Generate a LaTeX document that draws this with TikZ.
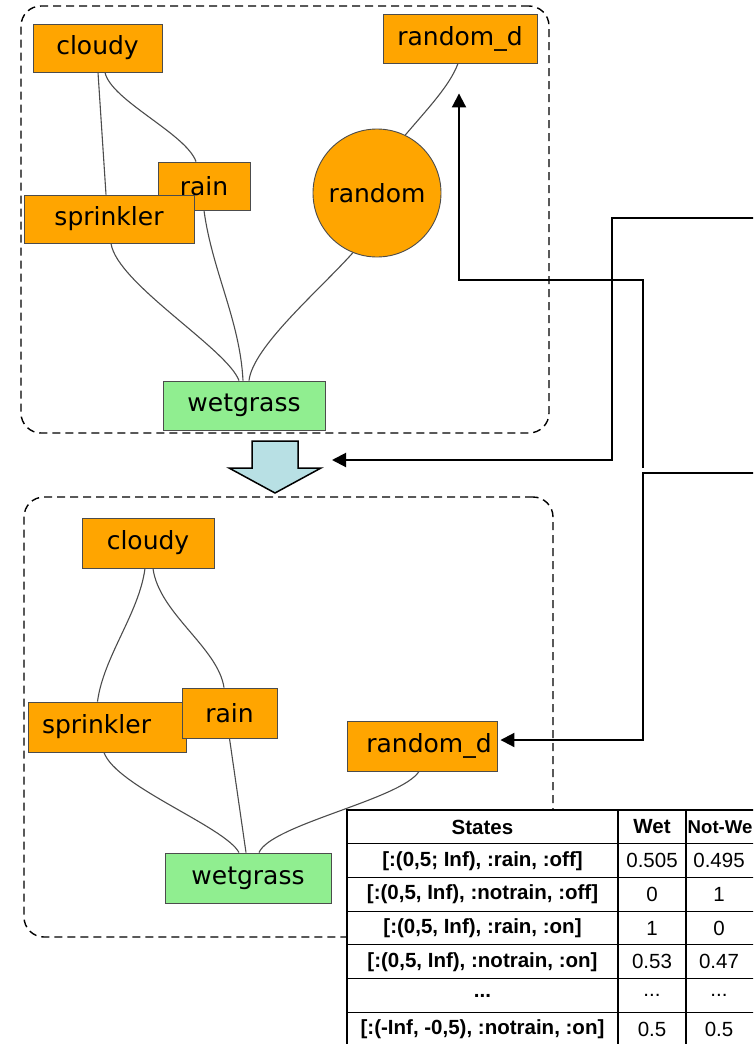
\documentclass[tikz,border=0pt]{standalone}
\usepackage{fontspec}
\setmainfont{DejaVu Sans}
\newfontfamily\tabfont{Liberation Sans}
\usetikzlibrary{positioning, arrows.meta}
\definecolor{netorange}{RGB}{255, 165, 0}
\definecolor{netgreen}{RGB}{144, 238, 144}
\definecolor{flowblue}{RGB}{184, 224, 228}
\newcommand{\celldots}{...}
\tikzset{
  var/.style={
    draw=black!70,
    fill=netorange,
    line width=0.9pt,
    inner sep=0pt,
    minimum height=48pt,
    font=\fontsize{25}{30}\selectfont
  },
  goal/.style={
    var,
    fill=netgreen
  },
  frame/.style={
    draw=black,
    dash pattern=on 8pt off 5pt,
    line width=1.4pt,
    rounded corners=20pt,
    inner sep=0pt
  },
  link/.style={
    draw=black!70,
    line width=1.1pt
  },
  flow/.style={
    draw=black,
    line width=2pt,
    -{Triangle[length=14pt, width=14pt]}
  },
  blockarrow/.style={
    draw=black,
    fill=flowblue,
    line width=1.5pt,
    line join=miter
  },
  tabline/.style={
    draw=black,
    line width=1.2pt
  },
  tabhead/.style={
    inner sep=0pt,
    font=\tabfont\bfseries\fontsize{20.5}{24}\selectfont
  },
  tabval/.style={
    inner sep=0pt,
    font=\tabfont\fontsize{20.5}{24}\selectfont
  }
}

\begin{document}
\begin{tikzpicture}[x=1pt, y=-1pt]
  \useasboundingbox (0,0) rectangle (753,1044);
  \clip (0,0) rectangle (753,1044);

  % network before discretisation
  \node[frame, minimum width=528pt, minimum height=427pt] (net1) at (285,219.5) {};
  \node[var, minimum width=129pt] (cloudy1) at (97.5,48) {cloudy};
  \node[var, minimum width=92pt] (rain1) at (204,186) {rain};
  \node[var, minimum width=170pt] (sprinkler1) at (109,219) {sprinkler};
  \node[var, circle, minimum size=128pt] (random1) at (377,193) {random};
  \node[var, minimum width=154pt, minimum height=49pt] (randomd1) at (460,38.5) {random\_d};
  \node[goal, minimum width=162pt, minimum height=49pt] (wetgrass1) at (244,405.5) {wetgrass};

  \draw[link] ([xshift=0.5pt]cloudy1.south) -- ([xshift=-3pt]sprinkler1.north);
  \draw[link] ([xshift=7.5pt]cloudy1.south) .. controls +(6,28) and +(-10,-28) .. ([xshift=-8pt]rain1.north);
  \draw[link] ([xshift=2pt]sprinkler1.south) .. controls +(6,40) and +(-12,-32) .. ([xshift=-5pt]wetgrass1.north);
  \draw[link] (rain1.south) .. controls +(8,60) and +(-3,-60) .. ([xshift=-1pt]wetgrass1.north);
  \draw[link] (random1.-112) .. controls +(-34,38) and +(4,-34) .. ([xshift=5pt]wetgrass1.north);
  \draw[link] (random1.64) .. controls +(22,-26) and +(-8,22) .. ([xshift=-2pt]randomd1.south);

  % step between the two networks
  \draw[blockarrow] (252,441) -- (298,441) -- (298,468) -- (321,468) -- (275,493) -- (229,468) -- (252,468) -- cycle;
  \coordinate (merge) at (332,460);

  % network after discretisation
  \node[frame, minimum width=529pt, minimum height=440pt] (net2) at (288.5,717) {};
  \node[var, minimum width=132pt, minimum height=50pt] (cloudy2) at (148,543) {cloudy};
  \node[var, minimum width=158pt, minimum height=50pt, text width=130pt, align=left, inner xsep=14pt] (sprinkler2) at (107,727) {sprinkler};
  \node[var, minimum width=95pt, minimum height=50pt] (rain2) at (229.5,713) {rain};
  \node[var, minimum width=150pt, minimum height=50pt] (randomd2) at (422,746) {\hspace{14pt}random\_d};
  \node[goal, minimum width=166pt, minimum height=50pt] (wetgrass2) at (248,878) {wetgrass};

  \draw[link] ([xshift=-3pt]cloudy2.south) .. controls +(-6,45) and +(6,-45) .. ([xshift=-9.5pt]sprinkler2.north);
  \draw[link] ([xshift=5pt]cloudy2.south) .. controls +(6,45) and +(-6,-40) .. ([xshift=-5.5pt]rain2.north);
  \draw[link] ([xshift=-3pt]sprinkler2.south) .. controls +(12,34) and +(-14,-26) .. ([xshift=-9pt]wetgrass2.north);
  \draw[link] (rain2.south) -- ([xshift=-2pt]wetgrass2.north);
  \draw[link] ([xshift=-3pt]randomd2.south) .. controls +(-18,28) and +(12,-28) .. ([xshift=11pt]wetgrass2.north);

  % links coming in from the right
  \coordinate (inA) at (760,218);
  \coordinate (inB) at (643,468);
  \coordinate (inC) at (760,473);
  \draw[flow] (inA) -- ++(-148,0) |- (merge);
  \draw[flow] (inB) -- ++(0,-188) -| ([xshift=-1pt,yshift=-30pt]randomd1.south);
  \draw[flow] (inC) -- ++(-117,0) |- ([xshift=3pt,yshift=6pt]randomd2.east);

  % table of wetgrass
  \draw[tabline, fill=white] (347,810) rectangle (770,1060);
  \foreach \y in {843.7, 877.4, 911.1, 944.8, 978.5, 1012.2}
    \draw[tabline] (347,\y) -- (770,\y);
  \draw[tabline] (618,810) -- (618,1060);
  \draw[tabline] (686,810) -- (686,1060);

  \node[tabhead] (states) at (482.5,827) {States};
  \node[tabhead] (wet) at (652,827) {Wet};
  \node[tabhead, anchor=west, font=\tabfont\bfseries\fontsize{18.6}{22}\selectfont] (notwet) at (687.5,827) {Not-We};
  \foreach \lab/\wv/\nv [count=\i] in {
      {[:(0,5; Inf), :rain, :off]}/0.505/0.495,
      {[:(0,5, Inf), :notrain, :off]}/0/1,
      {[:(0,5, Inf), :rain, :on]}/1/0,
      {[:(0,5, Inf), :notrain, :on]}/0.53/0.47,
      {\celldots}/{\celldots}/{\celldots},
      {[:(-Inf, -0,5), :notrain, :on]}/0.5/0.5} {
    \node[tabhead] (s\i) at (482.5, {827+33.7*\i}) {\lab};
    \node[tabval] (w\i) at (652, {827+33.7*\i}) {\wv};
    \node[tabval] (n\i) at (719, {827+33.7*\i}) {\nv};
  }
\end{tikzpicture}
\end{document}
